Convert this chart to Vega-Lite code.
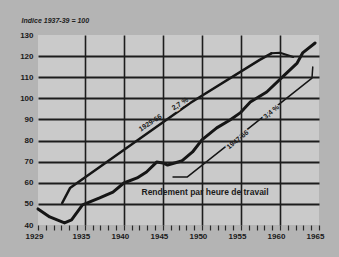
{
  "$schema": "https://vega.github.io/schema/vega-lite/v6.json",
  "width": 281,
  "height": 190,
  "autosize": {"type": "none"},
  "padding": {"left": 38, "top": 35, "right": 20, "bottom": 32},
  "background": "#b4b4b4",
  "config": {"view": {"stroke": null, "fill": "#cacaca", "fillOpacity": 1}, "font": "Liberation Sans"},
  "datasets": {
    "graphique": [
      {"debut": 1929, "fin": 1965, "bas": 40, "haut": 130}
    ],
    "series": [
      {"serie": "Rendement", "annee": 1929.0, "valeur": 47.6},
      {"serie": "Rendement", "annee": 1930.5, "valeur": 43.8},
      {"serie": "Rendement", "annee": 1932.4, "valeur": 41.0},
      {"serie": "Rendement", "annee": 1933.3, "valeur": 42.4},
      {"serie": "Rendement", "annee": 1934.7, "valeur": 49.5},
      {"serie": "Rendement", "annee": 1936.9, "valeur": 52.8},
      {"serie": "Rendement", "annee": 1938.6, "valeur": 55.6},
      {"serie": "Rendement", "annee": 1940.0, "valeur": 59.9},
      {"serie": "Rendement", "annee": 1941.7, "valeur": 62.3},
      {"serie": "Rendement", "annee": 1942.9, "valeur": 65.1},
      {"serie": "Rendement", "annee": 1944.2, "valeur": 69.8},
      {"serie": "Rendement", "annee": 1945.0, "valeur": 69.4},
      {"serie": "Rendement", "annee": 1945.6, "valeur": 68.4},
      {"serie": "Rendement", "annee": 1947.4, "valeur": 70.3},
      {"serie": "Rendement", "annee": 1948.8, "valeur": 74.6},
      {"serie": "Rendement", "annee": 1950.0, "valeur": 80.3},
      {"serie": "Rendement", "annee": 1951.9, "valeur": 86.0},
      {"serie": "Rendement", "annee": 1953.6, "valeur": 89.7},
      {"serie": "Rendement", "annee": 1954.9, "valeur": 93.1},
      {"serie": "Rendement", "annee": 1956.2, "valeur": 98.3},
      {"serie": "Rendement", "annee": 1958.3, "valeur": 103.0},
      {"serie": "Rendement", "annee": 1960.6, "valeur": 111.1},
      {"serie": "Rendement", "annee": 1962.2, "valeur": 116.7},
      {"serie": "Rendement", "annee": 1962.9, "valeur": 121.5},
      {"serie": "Rendement", "annee": 1964.5, "valeur": 126.2},
      {"serie": "Tendance 1929-66", "annee": 1932.1, "valeur": 50.4},
      {"serie": "Tendance 1929-66", "annee": 1933.1, "valeur": 57.5},
      {"serie": "Tendance 1929-66", "annee": 1940.8, "valeur": 77.7},
      {"serie": "Tendance 1929-66", "annee": 1948.5, "valeur": 97.8},
      {"serie": "Tendance 1929-66", "annee": 1957.4, "valeur": 118.2},
      {"serie": "Tendance 1929-66", "annee": 1958.9, "valeur": 121.3},
      {"serie": "Fin 1929-66", "annee": 1958.9, "valeur": 121.3},
      {"serie": "Fin 1929-66", "annee": 1960.0, "valeur": 121.6},
      {"serie": "Fin 1929-66", "annee": 1961.7, "valeur": 119.6},
      {"serie": "Tendance 1947-66", "annee": 1946.3, "valeur": 62.7},
      {"serie": "Tendance 1947-66", "annee": 1948.1, "valeur": 62.7},
      {"serie": "Tendance 1947-66", "annee": 1964.1, "valeur": 109.6},
      {"serie": "Tendance 1947-66", "annee": 1964.2, "valeur": 114.8}
    ],
    "titre": [
      {"texte": "Indice 1937-39 = 100", "annee": 1926.9, "valeur": 136.6}
    ],
    "etiquettes1": [
      {"texte": "1929-66", "annee": 1943.4, "valeur": 88.3},
      {"texte": "2,7 %", "annee": 1947.2, "valeur": 97.3}
    ],
    "etiquettes2": [
      {"texte": "1947-66", "annee": 1954.6, "valeur": 80.3},
      {"texte": "3,4 %", "annee": 1958.9, "valeur": 93.5}
    ],
    "etiquette3": [
      {"texte": "Rendement par heure de travail", "annee": 1950.4, "valeur": 55.6}
    ]
  },
  "layer": [
    {
      "data": {"name": "graphique"},
      "mark": {"type": "rect", "fill": "#cacaca", "fillOpacity": 1},
      "encoding": {
        "x": {
          "field": "debut", "type": "quantitative",
          "scale": {"domain": [1929, 1965], "nice": false, "zero": false},
          "axis": {
            "values": [1929,1930,1931,1932,1933,1934,1935,1936,1937,1938,1939,1940,1941,1942,1943,1944,1945,1946,1947,1948,1949,1950,1951,1952,1953,1954,1955,1956,1957,1958,1959,1960,1961,1962,1963,1964,1965],
            "tickCount": 200,
            "format": "d",
            "labelExpr": "((datum.value % 5 === 0 && datum.value > 1930) || datum.value === 1929) ? datum.label : ''",
            "title": null,
            "domain": false,
            "ticks": true,
            "tickSize": 5,
            "tickWidth": 1.2,
            "tickColor": "#2a2a2a",
            "labelPadding": 2,
            "labelOffset": -4,
            "labelFlush": false,
            "labelOverlap": false,
            "labelBound": false,
            "labelFontSize": 8,
            "labelFontWeight": "bold",
            "labelColor": "#1a1a1a",
            "grid": true,
            "gridColor": "#1c1c1c",
            "gridWidth": 1.6,
            "gridOpacity": {"condition": {"test": "datum.value % 5 === 0 && datum.value > 1930 && datum.value < 1965", "value": 1}, "value": 0},
            "zindex": 1
          }
        },
        "x2": {"field": "fin"},
        "y": {
          "field": "bas", "type": "quantitative",
          "scale": {"domain": [40, 130], "nice": false, "zero": false},
          "axis": {
            "values": [40, 50, 60, 70, 80, 90, 100, 110, 120, 130],
            "tickCount": 200,
            "format": "d",
            "title": null,
            "domain": false,
            "ticks": false,
            "labelPadding": 5,
            "labelOverlap": false,
            "labelFontSize": 8,
            "labelFontWeight": "bold",
            "labelColor": "#1a1a1a",
            "grid": true,
            "gridColor": "#1c1c1c",
            "gridWidth": 1.9,
            "gridOpacity": {"condition": {"test": "datum.value > 40 && datum.value < 130", "value": 1}, "value": 0},
            "zindex": 1
          }
        },
        "y2": {"field": "haut"}
      }
    },
    {
      "data": {"name": "series"},
      "mark": {"type": "line", "color": "#151515", "strokeCap": "round", "strokeJoin": "round"},
      "encoding": {
        "x": {"field": "annee", "type": "quantitative"},
        "y": {"field": "valeur", "type": "quantitative"},
        "detail": {"field": "serie", "type": "nominal"},
        "strokeWidth": {"field": "serie", "type": "nominal", "scale": {"domain": ["Rendement", "Tendance 1929-66", "Fin 1929-66", "Tendance 1947-66"], "range": [3, 1.5, 3, 1.5]}, "legend": null}
      }
    },
    {
      "data": {"name": "titre"},
      "mark": {"type": "text", "align": "left", "baseline": "middle", "fontSize": 7, "fontStyle": "italic", "fontWeight": "bold", "color": "#222222"},
      "encoding": {"x": {"field": "annee", "type": "quantitative"}, "y": {"field": "valeur", "type": "quantitative"}, "text": {"field": "texte"}}
    },
    {
      "data": {"name": "etiquettes1"},
      "mark": {"type": "text", "angle": 327, "fontSize": 7, "fontWeight": "bold", "stroke": "#cacaca", "strokeWidth": 3, "color": "#cacaca"},
      "encoding": {"x": {"field": "annee", "type": "quantitative"}, "y": {"field": "valeur", "type": "quantitative"}, "text": {"field": "texte"}}
    },
    {
      "data": {"name": "etiquettes1"},
      "mark": {"type": "text", "angle": 327, "fontSize": 7, "fontWeight": "bold", "color": "#1a1a1a"},
      "encoding": {"x": {"field": "annee", "type": "quantitative"}, "y": {"field": "valeur", "type": "quantitative"}, "text": {"field": "texte"}}
    },
    {
      "data": {"name": "etiquettes2"},
      "mark": {"type": "text", "angle": 321, "fontSize": 7, "fontWeight": "bold", "stroke": "#cacaca", "strokeWidth": 3, "color": "#cacaca"},
      "encoding": {"x": {"field": "annee", "type": "quantitative"}, "y": {"field": "valeur", "type": "quantitative"}, "text": {"field": "texte"}}
    },
    {
      "data": {"name": "etiquettes2"},
      "mark": {"type": "text", "angle": 321, "fontSize": 7, "fontWeight": "bold", "color": "#1a1a1a"},
      "encoding": {"x": {"field": "annee", "type": "quantitative"}, "y": {"field": "valeur", "type": "quantitative"}, "text": {"field": "texte"}}
    },
    {
      "data": {"name": "etiquette3"},
      "mark": {"type": "text", "fontSize": 8.5, "fontWeight": "bold", "color": "#1a1a1a"},
      "encoding": {"x": {"field": "annee", "type": "quantitative"}, "y": {"field": "valeur", "type": "quantitative"}, "text": {"field": "texte"}}
    }
  ]
}
